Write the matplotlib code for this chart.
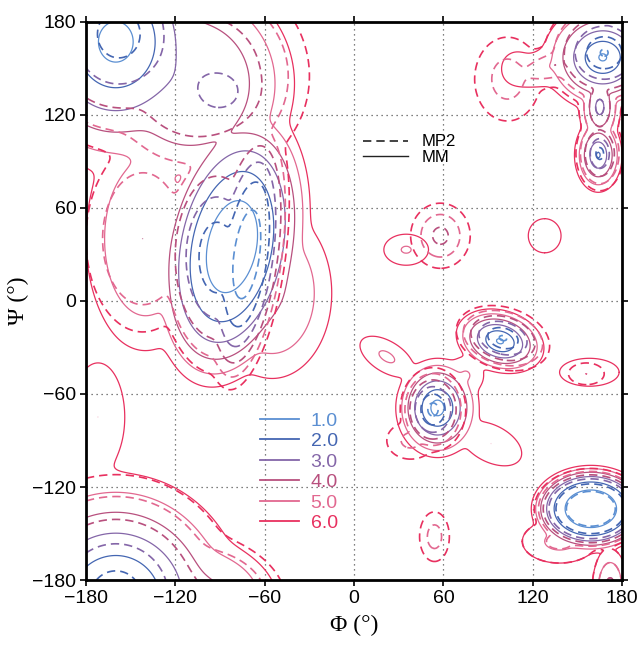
import numpy as np
import matplotlib.pyplot as plt
from matplotlib.lines import Line2D

plt.rcParams['font.family'] = ['Liberation Sans', 'DejaVu Sans']

levels = [1.0, 2.0, 3.0, 4.0, 5.0, 6.0]
level_colors = ['#5b8fd2', '#4466b2', '#8466a8', '#b8507e', '#e26890', '#e8305f']

# minima of the MM map (solid): centre, depth, half widths at 6 kcal/mol, tilt, sharpness
mm_phi  = [-160, -160, -95, -82,  -55, -110, -140, -172, 167, 172, 164, 165, 135, 109,  35, 128,  56,  75,  98,  92,  22, 158,  159,  172,  138]
mm_psi  = [ 167, -193, -185, 35,    5,  140,   40,  -75, 157, 190,  94, 125, 152, 151,  33,  42, -69, -48, -26, -92, -36, -46, -134, -185, -155]
mm_e0   = [ 0.4,  0.4,  4.0, 0.4, 4.0, 3.05,  4.1,  5.0, 0.8, 1.5, 1.8, 2.5, 5.0, 5.3, 4.8, 5.4, 0.5, 4.8, 0.8, 5.0, 4.7, 5.5,  0.3,  3.5,  4.5]
mm_wphi = [  75,   85,   45,  50,   40,   70,   40,   18,  40,  20,  16,  14,  30,   9,  15,  11,  28,  12,  30,  22,  20,  20,   40,   12,   25]
mm_wpsi = [  84,   82,   30,  92,   55,   70,   72,   35,  35,  25,  24,  25,  12,   9,  10,  11,  32,  12,  20,  12,  10,   9,   28,   25,   14]
mm_tilt = [   0,    0,  -20, -12,    0,    0,    0,    0,   0,   0,   0,   0,  15,   0,   0,   0,   0,   0, -15, -25, -30,   0,    0,    0,    0]
mm_pow  = [ 1.2,  1.2,  2.0, 2.0,  2.0,  2.0,  2.0,  1.2, 1.2, 1.2, 1.2, 1.2, 1.2, 1.2, 1.2, 1.2, 1.3, 1.2, 1.3, 1.2, 1.2, 1.2,  2.5,  1.2,  1.2]

# minima of the MP2 map (dashed)
mp2_phi  = [-158, -160,  -92, -72,  -92, -105, -90, -142, 168, 172, 165, 165, 103, 135,  58,  53,  38, 100, 156,   54,  159,  172,  138]
mp2_psi  = [ 172, -190, -185,  30,   28,  145, 135,   40, 160, 190,  95, 125, 143, 152,  42, -70, -90, -24, -47, -152, -134, -185, -155]
mp2_e0   = [ 1.3,  1.3,  4.0, 0.4,  1.2,  3.1, 2.3,  4.0, 0.8, 1.5, 1.5, 2.5, 4.3, 4.0, 3.5, 0.5, 4.5, 0.8, 5.0,  4.3,  0.3,  3.5,  4.6]
mp2_wphi = [  70,   82,   48,  26,   40,   75,  45,   38,  40,  20,  16,  14,  22,  35,  20,  22,  16,  32,  12,   10,   38,   12,   25]
mp2_wpsi = [  75,   78,   32,  88,   75,   70,  38,   60,  35,  25,  24,  25,  27,  13,  21,  27,  12,  20,   7,   16,   26,   25,   14]
mp2_tilt = [   0,    0,  -20,  -8,    0,    0,   0,    0,   0,   0,   0,   0,   0,  15,   0,   0,   0, -15,   0,    0,    0,    0,    0]
mp2_pow  = [ 1.2,  1.2,  2.0, 2.0,  1.5,  2.0, 1.2,  2.0, 1.2, 1.2, 1.2, 1.2, 1.2, 1.2, 1.2, 1.3, 1.2, 1.3, 1.2,  1.2,  2.5,  1.2,  1.2]

grid = np.arange(-180, 181, 1.0)
P, S = np.meshgrid(grid, grid)


def surface(cphi, cpsi, e0, wphi, wpsi, tilt, power, T=0.3):
    wells = []
    for cx, cy, e, a, b, t, p in zip(cphi, cpsi, e0, wphi, wpsi, tilt, power):
        dp = P - cx
        ds = S - cy
        th = np.radians(t)
        u = dp*np.cos(th) + ds*np.sin(th)
        v = -dp*np.sin(th) + ds*np.cos(th)
        d = np.sqrt((u/a)**2 + (v/b)**2)
        wells.append(e + (6 - e)*d**p)
    wells = np.array(wells)
    m = wells.min(axis=0)
    return m - T*np.log(np.exp(-(wells - m)/T).sum(axis=0))


E_mm = surface(mm_phi, mm_psi, mm_e0, mm_wphi, mm_wpsi, mm_tilt, mm_pow)
E_mp2 = surface(mp2_phi, mp2_psi, mp2_e0, mp2_wphi, mp2_wpsi, mp2_tilt, mp2_pow)

fig = plt.figure(figsize=(6.42, 6.57), dpi=100)
ax = fig.add_axes([0.134, 0.117, 0.835, 0.850])

ax.contour(P, S, E_mm, levels=levels, colors=level_colors, linewidths=0.9,
           linestyles='solid')
ax.contour(P, S, E_mp2, levels=levels, colors=level_colors, linewidths=1.2,
           linestyles=[(0, (5, 3))])

ticks = np.arange(-180, 181, 60)
ax.set_xlim(-180, 180)
ax.set_ylim(-180, 180)
ax.set_xticks(ticks)
ax.set_yticks(ticks)
ax.grid(True, color='#555555', linestyle=(0, (1, 3)), linewidth=0.9)
ax.tick_params(labelsize=14, direction='out', length=4, width=1.2,
               top=True, right=True, pad=3)
for sp in ax.spines.values():
    sp.set_linewidth(2)

ax.set_xlabel('Φ (°)', family='Liberation Serif', fontsize=17, labelpad=6)
ax.set_ylabel('Ψ (°)', family='Liberation Serif', fontsize=17, labelpad=2)

h1 = [Line2D([], [], color=c, lw=1.3) for c in level_colors]
leg1 = ax.legend(h1, [f'{l:.1f}' for l in levels], loc='upper left',
                 bbox_to_anchor=(0.31, 0.315), frameon=False, fontsize=14,
                 handlelength=2.0, handletextpad=0.6, labelspacing=0.15,
                 labelcolor=level_colors, borderaxespad=0)
ax.add_artist(leg1)

h2 = [Line2D([], [], color='#222222', lw=1.2, ls=(0, (5, 3))),
      Line2D([], [], color='#222222', lw=1.0)]
ax.legend(h2, ['MP2', 'MM'], loc='upper left', bbox_to_anchor=(0.505, 0.81),
          frameon=False, fontsize=12, handlelength=2.7, handletextpad=0.8,
          labelspacing=0.05, borderaxespad=0)

fig.savefig('out.png', dpi=100, facecolor='w')
